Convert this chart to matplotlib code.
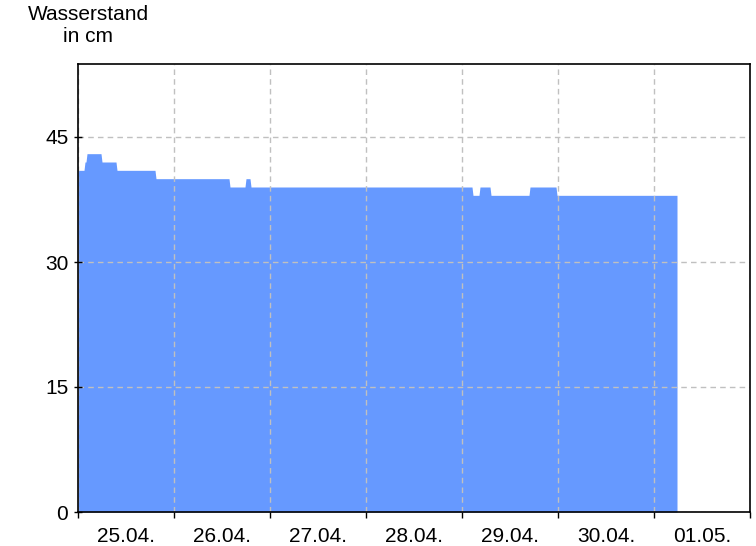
import matplotlib
matplotlib.use("Agg")
import matplotlib.pyplot as plt
import matplotlib.dates as mdates
import pandas as pd

plt.rcParams['font.family'] = ['Liberation Sans', 'DejaVu Sans']

# Water level series (cm), piecewise breakpoints
times = [
    "2024-04-25 00:00", "2024-04-25 01:30", "2024-04-25 01:45", "2024-04-25 02:00",
    "2024-04-25 02:15", "2024-04-25 05:45", "2024-04-25 06:00", "2024-04-25 09:30",
    "2024-04-25 09:45", "2024-04-25 19:15", "2024-04-25 19:30",
    "2024-04-26 13:45", "2024-04-26 14:00", "2024-04-26 17:45", "2024-04-26 18:00",
    "2024-04-26 19:00", "2024-04-26 19:15",
    "2024-04-29 02:30", "2024-04-29 02:45", "2024-04-29 04:15", "2024-04-29 04:30",
    "2024-04-29 07:00", "2024-04-29 07:15", "2024-04-29 16:45", "2024-04-29 17:00",
    "2024-04-29 23:30", "2024-04-29 23:45",
    "2024-05-01 05:45",
]
levels = [
    41, 41, 42, 42,
    43, 43, 42, 42,
    41, 41, 40,
    40, 39, 39, 40,
    40, 39,
    39, 38, 38, 39,
    39, 38, 38, 39,
    39, 38,
    38,
]
yticks = [0, 15, 30, 45]
day_labels = ["25.04.", "26.04.", "27.04.", "28.04.", "29.04.", "30.04.", "01.05."]

t = pd.to_datetime(times)
x_start = pd.Timestamp("2024-04-25 00:00")
x_end = pd.Timestamp("2024-05-02 00:00")

fig = plt.figure(figsize=(7.56, 5.46), dpi=100)
ax = fig.add_axes([78/756, 1 - 512/546, (750-78)/756, (512-64)/546])

ax.fill_between(t, levels, 0, color="#6699ff", linewidth=0, zorder=2)

ax.set_xlim(x_start, x_end)
ax.set_ylim(0, 53.76)

ax.set_yticks(yticks)
ax.set_yticklabels([str(v) for v in yticks], fontsize=15)

midnights = pd.date_range(x_start, x_end, freq="D")
noons = midnights[:-1] + pd.Timedelta(hours=12)
ax.set_xticks(mdates.date2num(midnights))
ax.set_xticklabels([])
ax.set_xticks(mdates.date2num(noons), minor=True)
ax.set_xticklabels(day_labels, minor=True, fontsize=15)
ax.tick_params(axis="x", which="major", direction="out", length=4, width=1, color="black")
ax.tick_params(axis="x", which="minor", length=0, pad=11)
ax.tick_params(axis="y", direction="inout", length=6, width=1, pad=4)

ax.grid(True, which="major", color="#c0c0c0", linestyle=(0, (4, 3)), linewidth=1, zorder=3)
ax.set_axisbelow(False)
for s in ax.spines.values():
    s.set_color("black")
    s.set_linewidth(1.2)
    s.set_zorder(4)

fig.text(88/756, 1 - 14/546, "Wasserstand", ha="center", va="center", fontsize=15)
fig.text(88/756, 1 - 36/546, "in cm", ha="center", va="center", fontsize=15)

fig.savefig("out.png", dpi=100)
